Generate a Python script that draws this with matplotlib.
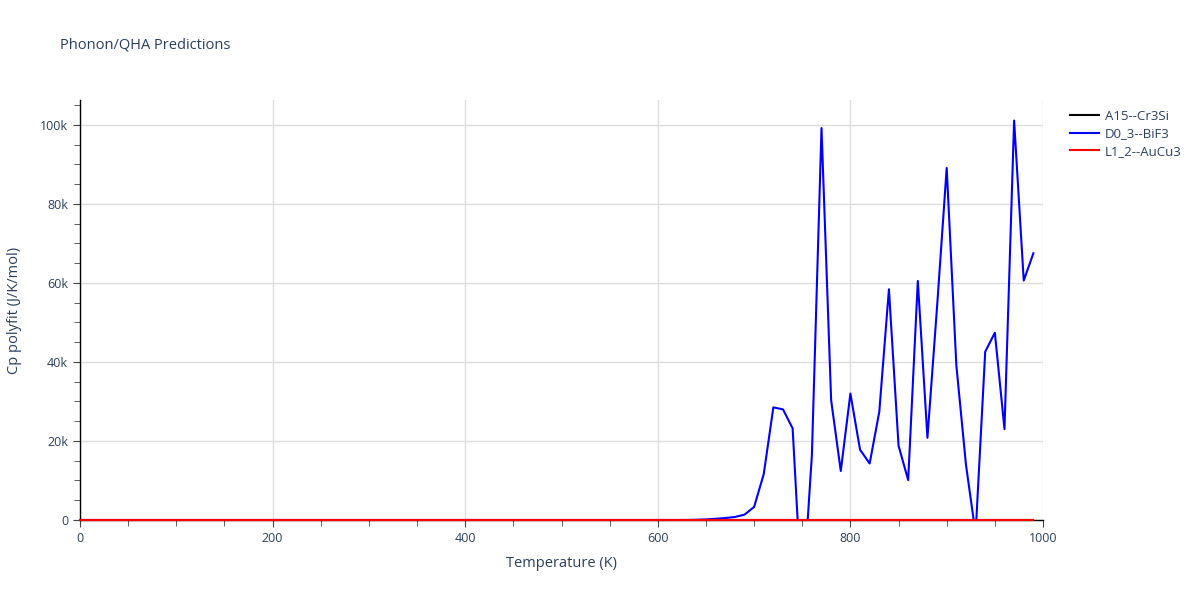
import matplotlib.pyplot as plt
from matplotlib.ticker import MultipleLocator, FuncFormatter

# temperatures (K), one point every 10 K
temps = list(range(0, 1000, 10))

# D0_3--BiF3 values (J/K/mol)
bif3_low = [0.0] * 64 + [50, 150, 300, 500]           # 0 .. 670 K
bif3_high = [760, 1350, 3300, 11600, 28500, 28000, 23200, -21400,
             16400, 99200, 30300, 12400, 32000, 17800, 14300, 27400,
             58400, 18800, 10100, 60500, 20800, 54000, 89100, 39200,
             14000, -3500, 42600, 47400, 23000, 101100, 60600, 67500]  # 680 .. 990 K
bif3 = bif3_low + bif3_high

# the other two structures stay on zero
cr3si = [0.0] * len(temps)
aucu3 = [0.0] * len(temps)

series = [
    ('A15--Cr3Si', cr3si, 'black'),
    ('D0_3--BiF3', bif3, 'blue'),
    ('L1_2--AuCu3', aucu3, 'red'),
]

txt = '#2a3f5f'
plt.rcParams['font.family'] = ['Open Sans', 'DejaVu Sans']

fig = plt.figure(figsize=(12, 6), dpi=100)
ax = fig.add_axes([80 / 1200, 80 / 600, 963 / 1200, 420 / 600])

for i, (name, vals, col) in enumerate(series):
    # flat zero lines sit on the axis, so they are drawn unclipped on top
    flat = col != 'blue'
    ax.plot(temps, vals, color=col, lw=1.5, label=name,
            clip_on=not flat, zorder=3 + i)

ax.set_xlim(0, 1000)
ax.set_ylim(0, 106300)

ax.xaxis.set_major_locator(MultipleLocator(200))
ax.xaxis.set_minor_locator(MultipleLocator(50))
ax.yaxis.set_major_locator(MultipleLocator(20000))
ax.yaxis.set_minor_locator(MultipleLocator(5000))
ax.yaxis.set_major_formatter(FuncFormatter(lambda v, p: '0' if v == 0 else '%dk' % (v / 1000)))

ax.grid(True, which='major', color='#dddddd', lw=1)
ax.set_axisbelow(True)
for s in ['top', 'right']:
    ax.spines[s].set_visible(False)
for s in ['left', 'bottom']:
    ax.spines[s].set_color('black')
    ax.spines[s].set_linewidth(1)
    ax.spines[s].set_zorder(2.5)

ax.tick_params(which='both', direction='out', colors='#444444', labelcolor=txt, labelsize=9)
ax.tick_params(which='major', length=5)
ax.tick_params(which='minor', length=4)

ax.set_xlabel('Temperature (K)', color=txt, fontsize=10.5, labelpad=8)
ax.set_ylabel('Cp polyfit (J/K/mol)', color=txt, fontsize=10.5, labelpad=13)

fig.text(60 / 1200, 1 - 45 / 600, 'Phonon/QHA Predictions', color=txt, fontsize=10.5, va='center', ha='left')

leg = fig.legend(loc='upper left', bbox_to_anchor=(1058 / 1200, 1 - 98 / 600), frameon=False,
                 fontsize=9.5, handlelength=2.2, labelspacing=0.35, handletextpad=0.45)
for t in leg.get_texts():
    t.set_color(txt)

plt.savefig('out.png', dpi=100)
